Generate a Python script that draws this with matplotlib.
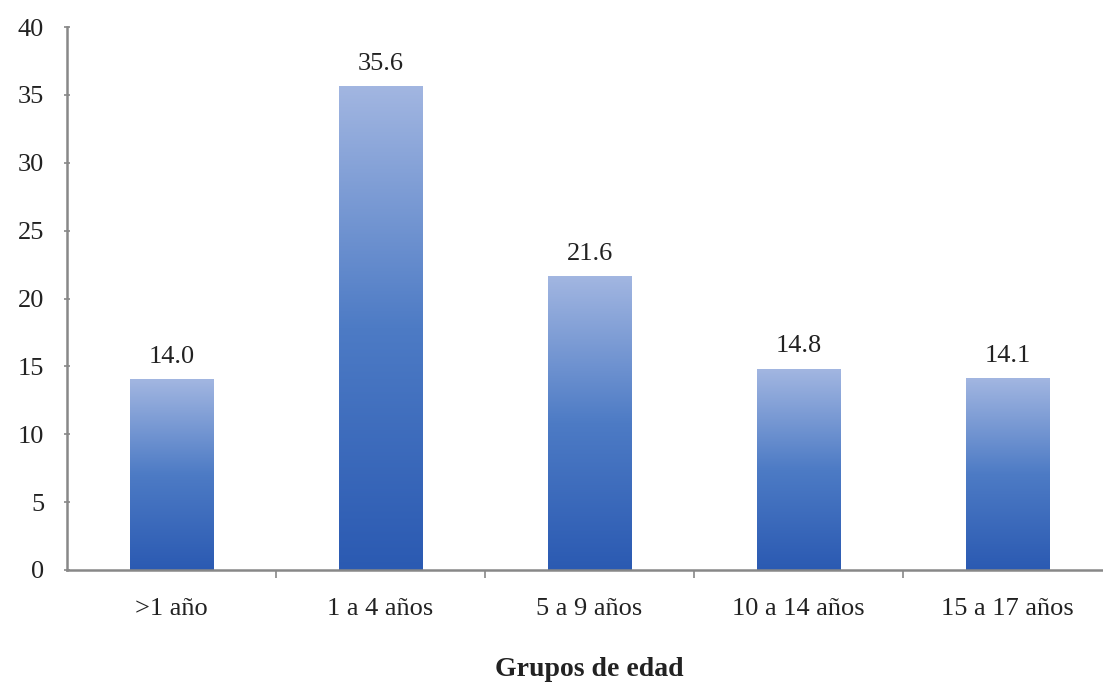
import numpy as np
import matplotlib
matplotlib.use('Agg')
import matplotlib.pyplot as plt
from matplotlib.colors import LinearSegmentedColormap

# data
grupos = ['>1 año', '1 a 4 años', '5 a 9 años', '10 a 14 años', '15 a 17 años']
valores = [14.0, 35.6, 21.6, 14.8, 14.1]
etiquetas = ['14.0', '35.6', '21.6', '14.8', '14.1']
yticks = [0, 5, 10, 15, 20, 25, 30, 35, 40]

plt.rcParams['font.family'] = ['Liberation Serif', 'DejaVu Serif']

fig = plt.figure(figsize=(11.03, 6.86), dpi=100)
ax = fig.add_axes([67 / 1103, 116 / 686, 1045 / 1103, 543 / 686])

x = np.arange(len(grupos))
bars = ax.bar(x, valores, width=0.4, color='none', edgecolor='none', zorder=2)

# vertical gradient per bar (dark at bottom, light at top)
cmap = LinearSegmentedColormap.from_list('azul', ['#2b5ab2', '#4d7bc5', '#a2b6e1'])
grad = np.linspace(0, 1, 256).reshape(-1, 1)
for b in bars:
    x0, w, h = b.get_x(), b.get_width(), b.get_height()
    ax.imshow(grad, cmap=cmap, origin='lower', aspect='auto',
              extent=(x0, x0 + w, 0, h), zorder=2)

for xi, v, t in zip(x, valores, etiquetas):
    ax.text(xi, v + 1.25, t, ha='center', va='baseline', fontsize=19, color='#222222')

ax.set_xlim(-0.5, len(grupos) - 0.5)
ax.set_ylim(0, 40)
ax.set_yticks(yticks)
ax.set_xticks(x)
ax.set_xticklabels(grupos, fontsize=19, color='#222222')
ax.set_xticks(np.arange(0.5, len(grupos) - 0.5, 1), minor=True)
ax.tick_params(axis='x', which='major', length=0, pad=20)
ax.tick_params(axis='x', which='minor', length=6, width=1.2, color='#888888', direction='out')
ax.tick_params(axis='y', length=5, width=1.2, color='#888888', direction='inout',
               labelsize=19, labelcolor='#222222', pad=14)

for s in ['top', 'right']:
    ax.spines[s].set_visible(False)
for s in ['left', 'bottom']:
    ax.spines[s].set_color('#888888')
    ax.spines[s].set_linewidth(1.8)

ax.set_xlabel('Grupos de edad', fontsize=20, fontweight='bold', color='#222222', labelpad=27)

fig.savefig('out.png', dpi=100)
